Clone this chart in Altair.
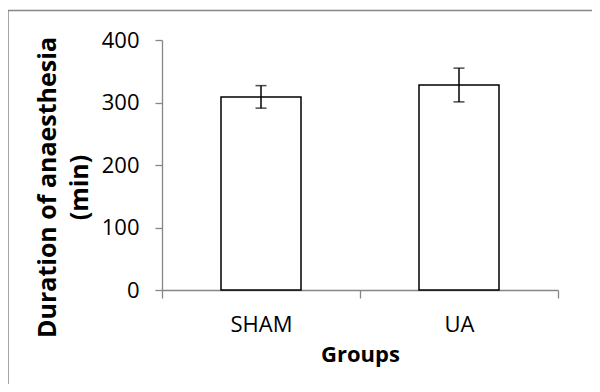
import altair as alt
import pandas as pd

groups = ["SHAM", "UA"]
means = [309, 328]
errors = [18, 27]

df = pd.DataFrame({
    "group": groups,
    "mean": means,
    "lo": [m - e for m, e in zip(means, errors)],
    "hi": [m + e for m, e in zip(means, errors)],
})

FONT = "Open Sans"
GRAY = "#868686"

xscale = alt.Scale(domain=groups, paddingInner=0, paddingOuter=0)
yscale = alt.Scale(domain=[0, 400])

xaxis = alt.Axis(
    title="Groups", labelAngle=0, tickBand="extent", tickSize=8,
    domainColor=GRAY, tickColor=GRAY, domainWidth=1.3, tickWidth=1.3,
    labelFont=FONT, labelFontSize=22, labelColor="black", labelPadding=16,
    titleFont=FONT, titleFontSize=22, titleFontWeight="bold", titleColor="black",
    titlePadding=9, grid=False,
)
yaxis = alt.Axis(
    title=["Duration of anaesthesia", "(min)"], values=[0, 100, 200, 300, 400],
    tickSize=7, domainColor=GRAY, tickColor=GRAY, domainWidth=1.3, tickWidth=1.3,
    labelFont=FONT, labelFontSize=22, labelColor="black", labelPadding=16,
    titleFont=FONT, titleFontSize=25, titleFontWeight="bold", titleColor="black",
    titleAngle=-90, titleX=-115, titleY=147, titleAlign="center",
    titleBaseline="middle", titleLineHeight=32, grid=False,
)

base = alt.Chart(df)

border = base.mark_rect(fill=None, stroke=GRAY, strokeWidth=1.5, clip=False).encode(
    x=alt.value(-154), x2=alt.value(700), y=alt.value(-29.5), y2=alt.value(500)
).transform_filter(alt.datum.group == "SHAM")

bars = base.mark_bar(size=80, fill="white", stroke="black", strokeWidth=1.5).encode(
    x=alt.X("group:N", scale=xscale, axis=xaxis, sort=groups),
    y=alt.Y("mean:Q", scale=yscale, axis=yaxis),
)

rules = base.mark_rule(color="black", strokeWidth=1.5).encode(
    x=alt.X("group:N", scale=xscale, sort=groups),
    y=alt.Y("lo:Q", scale=yscale),
    y2="hi:Q",
)
cap_lo = base.mark_tick(color="black", size=11, thickness=1.5, orient="horizontal").encode(
    x=alt.X("group:N", scale=xscale, sort=groups),
    y=alt.Y("lo:Q", scale=yscale),
)
cap_hi = base.mark_tick(color="black", size=11, thickness=1.5, orient="horizontal").encode(
    x=alt.X("group:N", scale=xscale, sort=groups),
    y=alt.Y("hi:Q", scale=yscale),
)

chart = alt.layer(bars, rules, cap_lo, cap_hi, border).properties(
    width=396, height=250,
    autosize=alt.AutoSizeParams(type="none"),
    padding={"left": 154, "top": 32, "right": 34, "bottom": 94},
).configure(background="white").configure_view(stroke=None, strokeWidth=0)

chart.save("out.html", embed_options={"renderer": "svg", "actions": False})
